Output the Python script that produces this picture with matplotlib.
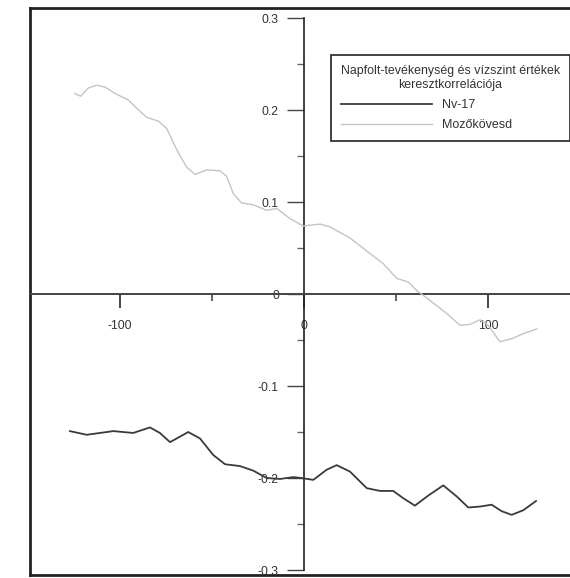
import matplotlib
matplotlib.use("Agg")
import matplotlib.pyplot as plt
from matplotlib.ticker import MultipleLocator, FixedLocator

plt.rcParams['font.family'] = ['Liberation Sans', 'DejaVu Sans']

# Data
nv_x = [-127.2, -118.1, -103.6, -92.8, -83.7, -78.3, -72.8, -62.9, -56.5, -49.3, -42.9, -34.8,
        -27.5, -20.3, -13.0, -5.8, -1.3, 5.1, 12.3, 17.8, 25.0, 34.1, 41.3, 48.5, 54.0, 60.3,
        67.6, 75.7, 83.0, 89.3, 95.7, 102.0, 107.4, 112.9, 119.2, 126.1]
nv_y = [-0.149, -0.153, -0.149, -0.151, -0.145, -0.151, -0.161, -0.150, -0.157, -0.175, -0.185,
        -0.187, -0.192, -0.200, -0.201, -0.199, -0.200, -0.202, -0.191, -0.186, -0.193, -0.211,
        -0.214, -0.214, -0.222, -0.230, -0.219, -0.208, -0.220, -0.232, -0.231, -0.229, -0.236,
        -0.240, -0.235, -0.225]

moz_x = [-124.5, -121.4, -117.2, -112.7, -108.2, -102.7, -95.5, -90.9, -85.5, -79.2, -74.6,
         -69.2, -63.8, -59.2, -52.9, -45.7, -42.0, -38.4, -33.9, -27.5, -20.3, -14.8, -7.6,
         -0.4, 8.7, 14.1, 25.0, 35.9, 43.1, 50.4, 56.7, 61.2, 68.5, 77.5, 84.8, 90.2, 95.7,
         100.2, 106.5, 113.8, 119.2, 126.5]
moz_y = [0.218, 0.215, 0.224, 0.227, 0.225, 0.218, 0.211, 0.202, 0.192, 0.188, 0.180, 0.157,
         0.138, 0.130, 0.135, 0.134, 0.128, 0.109, 0.099, 0.097, 0.091, 0.093, 0.082, 0.074,
         0.076, 0.073, 0.061, 0.044, 0.033, 0.017, 0.013, 0.004, -0.007, -0.021, -0.034,
         -0.033, -0.028, -0.034, -0.052, -0.048, -0.043, -0.038]

x_major = [-100, 0, 100]
x_minor = [-50, 50]
y_major = [-0.3, -0.2, -0.1, 0, 0.1, 0.2, 0.3]
y_labels = ['-0.3', '-0.2', '-0.1', '0', '0.1', '0.2', '0.3']
x_labels = ['-100', '0', '100']
legend_title = "Napfolt-tevékenység és vízszint értékek\nkeresztkorrelációja"
series_names = ["Nv-17", "Mozőkövesd"]

W, H = 570, 578
fig = plt.figure(figsize=(W / 100, H / 100), dpi=100)
pos = [30 / W, 3 / H, 545 / W, 567 / H]

# outer frame
fr = fig.add_axes(pos)
fr.set_xticks([]); fr.set_yticks([])
for s in fr.spines.values():
    s.set_linewidth(2.0)
    s.set_color('#222222')
fr.patch.set_alpha(0)

ax = fig.add_axes(pos)
ax.patch.set_alpha(0)
ax.set_xlim(-148.9, 147.3)
ax.set_ylim(-0.3054, 0.3109)

tc = '#333333'
ax.plot(moz_x, moz_y, color='#c4c4c4', lw=1.0, label=series_names[1], zorder=3)
ax.plot(nv_x, nv_y, color='#3a3a3a', lw=1.3, label=series_names[0], zorder=4)

for side in ['top', 'right']:
    ax.spines[side].set_visible(False)
ax.spines['left'].set_position(('data', 0))
ax.spines['bottom'].set_position(('data', 0))
ax.spines['left'].set_bounds(-0.3, 0.3)
ax.spines['left'].set_color('#222222')
ax.spines['bottom'].set_color('#444444')
ax.spines['left'].set_linewidth(1.2)
ax.spines['bottom'].set_linewidth(1.4)

ax.xaxis.set_major_locator(FixedLocator(x_major))
ax.xaxis.set_minor_locator(FixedLocator(x_minor))
ax.set_xticklabels(x_labels)
ax.yaxis.set_major_locator(FixedLocator(y_major))
ax.yaxis.set_minor_locator(MultipleLocator(0.05))
ax.set_yticklabels(y_labels)

ax.tick_params(axis='x', which='major', direction='out', length=10.4, width=1.4, color='#444444',
               pad=8, labelsize=8.8, labelcolor=tc)
ax.tick_params(axis='x', which='minor', direction='out', length=5, width=1.2, color='#444444')
ax.tick_params(axis='y', which='major', direction='out', length=12, width=1.0, color='#444444',
               pad=6, labelsize=8.8, labelcolor=tc)
ax.tick_params(axis='y', which='minor', direction='out', length=5, width=1.0, color='#666666')

handles, labels = ax.get_legend_handles_labels()
order = [1, 0]
leg = ax.legend([handles[i] for i in order], [labels[i] for i in order],
                title=legend_title, loc='upper left',
                bbox_to_anchor=((331 - 30) / 545, (575 - 55) / 567),
                frameon=True, fancybox=False, edgecolor='#333333', framealpha=1,
                fontsize=9.0, title_fontsize=8.9, handlelength=7.3, handletextpad=0.75,
                labelspacing=0.65, borderpad=0.8, alignment='left', borderaxespad=0)
leg.get_frame().set_linewidth(1.3)
leg.get_title().set_multialignment('center')
leg.get_title().set_color(tc)
for t in leg.get_texts():
    t.set_color(tc)

fig.savefig('out.png', dpi=100)
